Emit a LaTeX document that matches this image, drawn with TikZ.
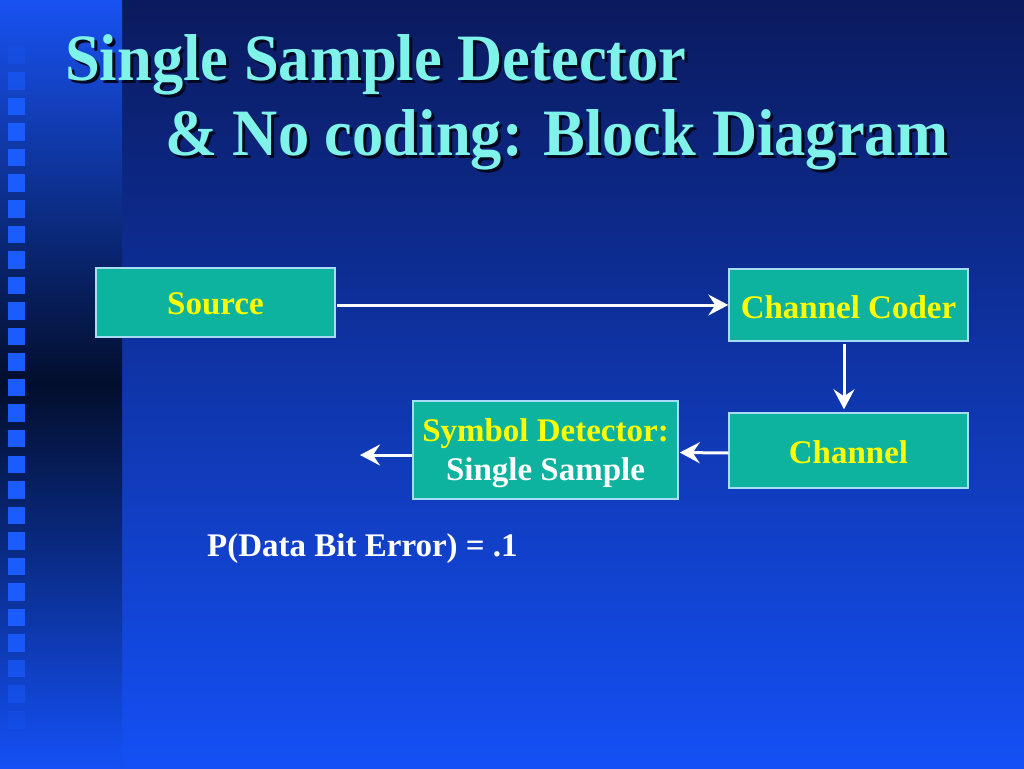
\documentclass[tikz,border=0pt]{standalone}
\usepackage{fontspec}
\setmainfont{Liberation Serif}
\usetikzlibrary{arrows.meta}
\definecolor{bgtop}{HTML}{0A1A5E}
\definecolor{bgbot}{HTML}{1450F5}
\definecolor{striptop}{HTML}{1852F2}
\definecolor{stripmid}{HTML}{020E2C}
\definecolor{sq}{HTML}{1A5CFF}
\definecolor{boxfill}{HTML}{0DB39E}
\definecolor{boxline}{HTML}{A8DCF5}
\definecolor{titlec}{HTML}{7FF2EA}
\definecolor{titleshadow}{HTML}{000820}
\definecolor{txtyellow}{HTML}{FFFF00}
\tikzset{
  titletext/.style={font=\fontsize{62.5}{70}\selectfont\bfseries, anchor=base west, inner sep=0pt},
  blockbox/.style={draw=boxline, line width=1.5pt, fill=boxfill, inner sep=0pt,
    font=\fontsize{33}{39}\selectfont\bfseries, text=txtyellow, align=center},
  flow/.style={draw=white, line width=3pt, -{Stealth[length=20pt,width=21pt,inset=7pt]}},
  bodytext/.style={font=\fontsize{33}{39}\selectfont\bfseries, text=white, anchor=base west, inner sep=0pt}
}
\newcommand{\tallttl}[1]{\scalebox{1}[1.06]{#1}}
\begin{document}
\begin{tikzpicture}[x=1pt,y=-1pt]
\useasboundingbox (0,0) rectangle (1024,768);
% background
\shade[top color=bgtop, bottom color=bgbot] (122,0) rectangle (1024,768);
\shade[top color=striptop, bottom color=bgbot, middle color=stripmid] (0,0) rectangle (122,768);
\foreach \k in {0,...,26}{
  \pgfmathsetmacro\op{min(1, 0.25+0.35*\k, (27-\k)/4.5)}
  \fill[sq, fill opacity=\op] (8,{46.7+25.55*\k}) rectangle +(17,17.5);
}
% title
\node[titletext, text=titleshadow] at (68,83) {\tallttl{Single Sample Detector}};
\node[titletext, text=titlec] (t1) at (65,80) {\tallttl{Single Sample Detector}};
\node[titletext, text=titleshadow] at (168,158) {\tallttl{\& No coding: Block Diagram}};
\node[titletext, text=titlec] (t2) at (165,155) {\tallttl{\& No coding: Block Diagram}};
% blocks
\node[blockbox, minimum width=239, minimum height=69] (src) at (215.5,302.5) {\rule{0pt}{24.5pt}Source};
\node[blockbox, minimum width=239, minimum height=72] (coder) at (848.5,305) {\rule{0pt}{26.5pt}Channel Coder};
\node[blockbox, minimum width=239, minimum height=75] (chan) at (848.5,450.5) {\rule{0pt}{25.5pt}Channel};
\node[blockbox, minimum width=265, minimum height=98] (det) at (545.5,450) {\rule{0pt}{30pt}Symbol Detector:\\\textcolor{white}{Single Sample}};
\coordinate (out) at (360,455);
% connectors
\draw[flow, shorten <=1pt] (src.east |- coder.west) -- (coder.west);
\draw[flow, shorten <=2pt, shorten >=3pt] ([xshift=-4.5pt]coder.south) -- ([xshift=-4.5pt]chan.north);
\draw[flow, shorten >=1pt] ([yshift=-2.5pt]chan.west) -- ([yshift=-2.5pt]det.east);
\draw[flow] ([yshift=-5pt]det.west) -- (out);
% note
\node[bodytext] (perr) at (207,556) {P(Data Bit Error) = .1};
\end{tikzpicture}
\end{document}
